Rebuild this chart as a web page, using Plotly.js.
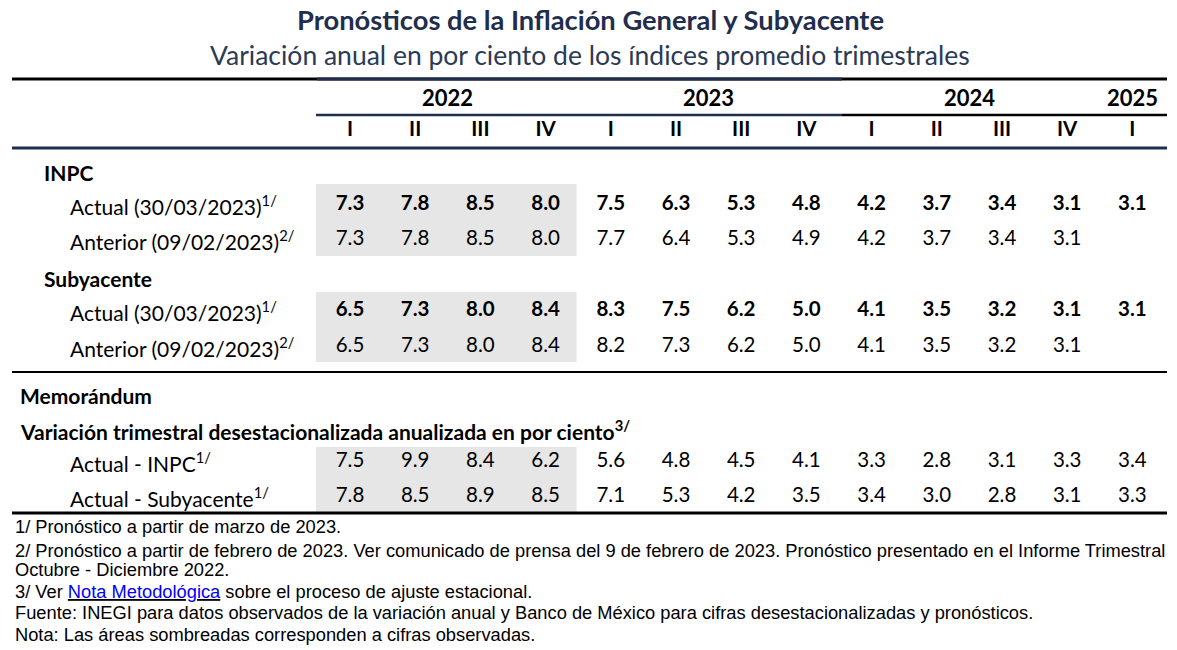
<!DOCTYPE html>
<html>
<head>
<meta charset="utf-8">
<script src="https://cdn.plot.ly/plotly-3.0.1.min.js"></script>
<style>html,body{margin:0;padding:0;background:#fff;}</style>
</head>
<body>
<div id="chart" style="width:1177px;height:650px;"></div>
<script>
// ---- Data ----
const years = ['2022', '2023', '2024', '2025'];
const yearSpans = [4, 4, 4, 1];
const quarters = ['I', 'II', 'III', 'IV', 'I', 'II', 'III', 'IV', 'I', 'II', 'III', 'IV', 'I'];
const inpcActual = [7.3, 7.8, 8.5, 8.0, 7.5, 6.3, 5.3, 4.8, 4.2, 3.7, 3.4, 3.1, 3.1];
const inpcAnterior = [7.3, 7.8, 8.5, 8.0, 7.7, 6.4, 5.3, 4.9, 4.2, 3.7, 3.4, 3.1, null];
const subActual = [6.5, 7.3, 8.0, 8.4, 8.3, 7.5, 6.2, 5.0, 4.1, 3.5, 3.2, 3.1, 3.1];
const subAnterior = [6.5, 7.3, 8.0, 8.4, 8.2, 7.3, 6.2, 5.0, 4.1, 3.5, 3.2, 3.1, null];
const memoInpc = [7.5, 9.9, 8.4, 6.2, 5.6, 4.8, 4.5, 4.1, 3.3, 2.8, 3.1, 3.3, 3.4];
const memoSub = [7.8, 8.5, 8.9, 8.5, 7.1, 5.3, 4.2, 3.5, 3.4, 3.0, 2.8, 3.1, 3.3];
const observedCols = 4;

const titleText = 'Pronósticos de la Inflación General y Subyacente';
const subtitleText = 'Variación anual en por ciento de los índices promedio trimestrales';
const footnotes = [
  '1/ Pronóstico a partir de marzo de 2023.',
  '2/ Pronóstico a partir de febrero de 2023. Ver comunicado de prensa del 9 de febrero de 2023. Pronóstico presentado en el Informe Trimestral',
  'Octubre - Diciembre 2022.',
  '3/ Ver <u><span style="color:#0000ff">Nota Metodológica</span></u> sobre el proceso de ajuste estacional.',
  'Fuente: INEGI para datos observados de la variación anual y Banco de México para cifras desestacionalizadas y pronósticos.',
  'Nota: Las áreas sombreadas corresponden a cifras observadas.'
];

// ---- Layout constants ----
const W = 1177, H = 650;
const col0 = 350, colStep = 65.2;
const colX = i => col0 + i * colStep;
const FONT = 'Lato, "Noto Sans", sans-serif';
const ARIAL = '"Liberation Sans", Arial, sans-serif';
const NUM_SIZE = 20.5;
const LABEL_SIZE = 21;

const rows = [
  {label: 'Actual (30/03/2023)<sup>1/</sup>', data: inpcActual, y: 205, bold: true},
  {label: 'Anterior (09/02/2023)<sup>2/</sup>', data: inpcAnterior, y: 240, bold: false},
  {label: 'Actual (30/03/2023)<sup>1/</sup>', data: subActual, y: 311, bold: true},
  {label: 'Anterior (09/02/2023)<sup>2/</sup>', data: subAnterior, y: 347, bold: false},
  {label: 'Actual - INPC<sup>1/</sup>', data: memoInpc, y: 462, bold: false},
  {label: 'Actual - Subyacente<sup>1/</sup>', data: memoSub, y: 497, bold: false}
];

const traces = rows.map(r => {
  const xs = [], ys = [], ts = [];
  r.data.forEach((v, i) => {
    if (v === null) return;
    xs.push(colX(i)); ys.push(r.y);
    ts.push(r.bold ? '<b>' + v.toFixed(1) + '</b>' : v.toFixed(1));
  });
  return {type: 'scatter', mode: 'text', x: xs, y: ys, text: ts,
    textposition: 'middle center', hoverinfo: 'skip', showlegend: false,
    textfont: {family: FONT, size: NUM_SIZE, color: '#000'}};
});

// quarter header trace
traces.push({type: 'scatter', mode: 'text', x: quarters.map((q, i) => colX(i)),
  y: quarters.map(() => 131), text: quarters.map(q => '<b>' + q + '</b>'),
  textposition: 'middle center', hoverinfo: 'skip', showlegend: false,
  textfont: {family: FONT, size: NUM_SIZE, color: '#000'}});

const annotations = [];
const ann = (text, x, y, opts) => annotations.push(Object.assign({text, x, y, xref: 'x', yref: 'y',
  showarrow: false, xanchor: 'left', yanchor: 'middle', font: {family: FONT, size: LABEL_SIZE, color: '#000'}}, opts || {}));

ann('<b>' + titleText + '</b>', W / 2 + 2, 19, {xanchor: 'center', font: {family: FONT, size: 27.3, color: '#1f2e4d'}});
ann(subtitleText, W / 2 + 1, 55, {xanchor: 'center', font: {family: FONT, size: 26.5, color: '#2b3a55'}});

// year headers
let start = 0;
years.forEach((yr, k) => {
  const a = colX(start), b = colX(start + yearSpans[k] - 1);
  ann('<b>' + yr + '</b>', (a + b) / 2, 97, {xanchor: 'center', font: {family: FONT, size: 22, color: '#000'}});
  start += yearSpans[k];
});

ann('<b>INPC</b>', 42, 172);
ann('<b>Subyacente</b>', 42, 278);
ann('<b>Memorándum</b>', 18, 395);
ann('<b>Variación trimestral desestacionalizada anualizada en por ciento<sup>3/</sup></b>', 18, 430);
rows.forEach(r => ann(r.label, 68, r.y));

const footY = [526, 550, 569, 591, 612, 634];
footnotes.forEach((t, i) => ann(t, 13, footY[i], {font: {family: ARIAL, size: 18.3, color: '#000'}}));

// shapes
const shapes = [];
const shadeX0 = colX(0) - 34, shadeX1 = colX(observedCols - 1) + 31;
[[184, 256], [292, 362], [447, 513]].forEach(([y0, y1]) => shapes.push({type: 'rect', xref: 'x', yref: 'y',
  x0: shadeX0, x1: shadeX1, y0, y1, fillcolor: '#e6e6e6', line: {width: 0}, layer: 'below'}));
const hline = (x0, x1, y, w, c) => shapes.push({type: 'line', xref: 'x', yref: 'y', x0, x1, y0: y, y1: y, line: {color: c, width: w}});
hline(12, 1167, 79, 3, '#000');
hline(317, 842, 79, 3, '#1f2e4d');
hline(316, 842, 115, 2.5, '#1f2e4d');
hline(842, 1167, 115, 2.5, '#000');
hline(12, 1167, 148, 3, '#1f2e4d');
hline(12, 1167, 372, 2, '#000');
hline(12, 1167, 513, 3, '#000');

const layout = {
  width: W, height: H, margin: {l: 0, r: 0, t: 0, b: 0},
  paper_bgcolor: '#fff', plot_bgcolor: '#fff',
  xaxis: {range: [0, W], visible: false, fixedrange: true},
  yaxis: {range: [H, 0], visible: false, fixedrange: true},
  annotations, shapes, showlegend: false
};
Plotly.newPlot('chart', traces, layout, {displayModeBar: false, staticPlot: true});
</script>
</body>
</html>
